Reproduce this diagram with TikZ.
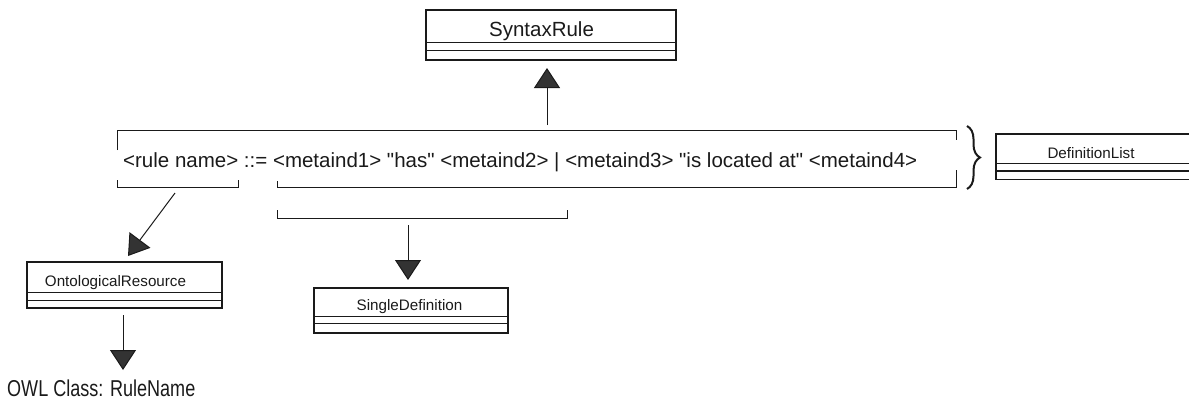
\documentclass[tikz,border=0pt]{standalone}
\usepackage{fontspec}
\setmainfont{Liberation Sans}[Ligatures=TeXOff]
\usetikzlibrary{arrows.meta,decorations.pathreplacing}
\definecolor{ink}{HTML}{1A1A1A}
\definecolor{headfill}{HTML}{333333}
\begin{document}
\begin{tikzpicture}[x=1pt,y=-1pt,
  classbox/.style={draw=ink, line width=1.1pt, inner sep=0pt, rectangle},
  classline/.style={draw=ink, line width=1.1pt},
  bigtxt/.style={font=\fontsize{20.5}{24}\selectfont, inner sep=0pt, text=ink},
  smalltxt/.style={font=\fontsize{15.2}{18}\selectfont, inner sep=0pt, text=ink},
  frame/.style={draw=ink, line width=1pt},
  arr/.style={draw=ink, line width=1pt, -{Triangle[width=26pt,length=20pt,fill=headfill]}},
]
\useasboundingbox (0,0) rectangle (1189,402);
\clip (0,0) rectangle (1189,402);

% SyntaxRule
\node[classbox, minimum width=250pt, minimum height=50pt] (sr) at (551,35) {};
\draw[classline] ([yshift=-33pt]sr.north west) -- ([yshift=-33pt]sr.north east);
\draw[classline] ([yshift=-41pt]sr.north west) -- ([yshift=-41pt]sr.north east);
\node[bigtxt, anchor=base] (srname) at (541.5,36.5) {SyntaxRule};

% DefinitionList
\node[classbox, minimum width=209pt, minimum height=45.5pt] (dl) at (1100.5,156.75) {};
\draw[classline] ([yshift=-30pt]dl.north west) -- ([yshift=-30pt]dl.north east);
\draw[classline] ([yshift=-37.5pt]dl.north west) -- ([yshift=-37.5pt]dl.north east);
\node[smalltxt, anchor=base] (dlname) at (1091,158) {DefinitionList};

% OntologicalResource
\node[classbox, minimum width=195pt, minimum height=46pt] (or) at (124.5,285) {};
\draw[classline] ([yshift=-31pt]or.north west) -- ([yshift=-31pt]or.north east);
\draw[classline] ([yshift=-39pt]or.north west) -- ([yshift=-39pt]or.north east);
\node[smalltxt, anchor=base] (orname) at (115.5,286) {OntologicalResource};

% SingleDefinition
\node[classbox, minimum width=194pt, minimum height=45pt] (sd) at (411,310.5) {};
\draw[classline] ([yshift=-29pt]sd.north west) -- ([yshift=-29pt]sd.north east);
\draw[classline] ([yshift=-36pt]sd.north west) -- ([yshift=-36pt]sd.north east);
\node[smalltxt, anchor=base] (sdname) at (409.5,310.5) {SingleDefinition};

% rule text
\node[bigtxt, anchor=base west] (rule) at (123,167.5) {<rule name> ::= <metaind1> "has" <metaind2> | <metaind3> "is located at" <metaind4>};

% brackets
\draw[frame] (117,150) -- (117,130) -- (956,130) -- (956,140);
\draw[frame] (277,181) -- (277,187) -- (956,187) -- (956,170);
\draw[frame] (117,180) -- (117,187) -- (238,187) -- (238,180);
\draw[frame] (277,210) -- (277,218) -- (567,218) -- (567,210);

% brace
\draw[draw=ink, line width=2pt, decorate, decoration={brace, amplitude=13pt}] (967,126) -- (967,189);

% OWL text
\node[anchor=base west, inner sep=0pt, text=ink, font=\fontsize{20.5}{24}\selectfont] (owl) at (7,396.5) {\scalebox{0.88}[1.12]{OWL Class: RuleName}};

% connectors
\coordinate (upfrom) at (547,125);
\coordinate (uptip) at (547,68);
\draw[arr] (upfrom) -- (uptip);
\coordinate (dgfrom) at (175,193);
\coordinate (dgtip) at (128,256);
\draw[arr] (dgfrom) -- (dgtip);
\coordinate (sdfrom) at (408,225);
\coordinate (sdtip) at (408,280);
\draw[arr] (sdfrom) -- (sdtip);
\coordinate (owfrom) at (123,315);
\coordinate (owtip) at (123,370);
\draw[arr] (owfrom) -- (owtip);
\end{tikzpicture}
\end{document}
